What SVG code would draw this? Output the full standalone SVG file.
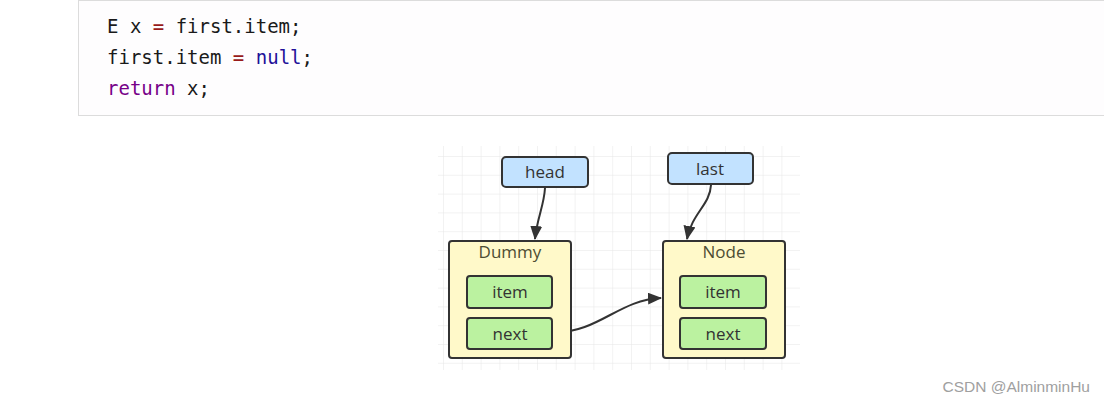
<svg xmlns="http://www.w3.org/2000/svg" width="1104" height="404" viewBox="0 0 1104 404">
<style>
.code{font-family:"DejaVu Sans Mono","Liberation Mono",monospace;font-size:19px;fill:#1a1a1a}
.op{fill:#981a1a}.kw{fill:#770088}.nl{fill:#221199}
.lbl{font-family:"Open Sans","Noto Sans",sans-serif;font-size:17px;fill:#333;text-anchor:middle}
.title{font-family:"Open Sans","Noto Sans",sans-serif;font-size:17px;fill:#4d4d33;text-anchor:middle}
.ptr{fill:#c2e2ff;stroke:#333;stroke-width:2}
.box{fill:#fff9c9;stroke:#333;stroke-width:2}
.fld{fill:#bbf2a0;stroke:#333;stroke-width:2}
.edge{fill:none;stroke:#333;stroke-width:2}
</style>
<defs>
<pattern id="grid" x="443" y="156" width="18.8" height="18.8" patternUnits="userSpaceOnUse">
<path d="M0 0H18.8M0 0V18.8" fill="none" stroke="#e6e6e6" stroke-width="1"/>
</pattern>
<marker id="ah" viewBox="0 0 14 12" refX="13" refY="6" markerWidth="14" markerHeight="12" markerUnits="userSpaceOnUse" orient="auto">
<path d="M0 0L14 6L0 12z" fill="#333"/>
</marker>
</defs>
<rect width="1104" height="404" fill="#fff"/>
<rect x="78.5" y="0.5" width="1040" height="115" fill="#fefdfe" stroke="#dcdcdc"/>
<text class="code" x="107" y="33">E x <tspan class="op">=</tspan> first.item;</text>
<text class="code" x="107" y="64">first.item <tspan class="op">=</tspan> <tspan class="nl">null</tspan>;</text>
<text class="code" x="107" y="95"><tspan class="kw">return</tspan> x;</text>
<rect x="438" y="146" width="362" height="224" fill="url(#grid)"/>
<g id="connectors">
<path class="edge" d="M545 188C544 206 537 218 535 239" marker-end="url(#ah)"/>
<path class="edge" d="M711 185C710 205 692 213 687 239" marker-end="url(#ah)"/>
<path class="edge" d="M553 333C600 332 618 300 661 298" marker-end="url(#ah)"/>
</g>
<g id="head"><rect class="ptr" x="502" y="157" width="86" height="30" rx="4"/><text class="lbl" x="545" y="178">head</text></g>
<g id="last"><rect class="ptr" x="668" y="153" width="85" height="31" rx="4"/><text class="lbl" x="710" y="175">last</text></g>
<g id="dummy"><rect class="box" x="449" y="241" width="122" height="117" rx="3"/><text class="title" x="510" y="258">Dummy</text>
<g id="dummy-item"><rect class="fld" x="467" y="276" width="85" height="32" rx="3"/><text class="lbl" x="510" y="298">item</text></g>
<g id="dummy-next"><rect class="fld" x="467" y="318" width="85" height="31" rx="3"/><text class="lbl" x="510" y="340">next</text></g>
</g>
<g id="node"><rect class="box" x="663" y="241" width="122" height="117" rx="3"/><text class="title" x="724" y="258">Node</text>
<g id="node-item"><rect class="fld" x="680" y="276" width="86" height="32" rx="3"/><text class="lbl" x="723" y="298">item</text></g>
<g id="node-next"><rect class="fld" x="680" y="318" width="86" height="31" rx="3"/><text class="lbl" x="723" y="340">next</text></g>
</g>
<text x="1090" y="392" text-anchor="end" style="font-family:'Liberation Sans',Arial,sans-serif;font-size:15.5px;fill:#a0a0a0">CSDN @AlminminHu</text>
</svg>
